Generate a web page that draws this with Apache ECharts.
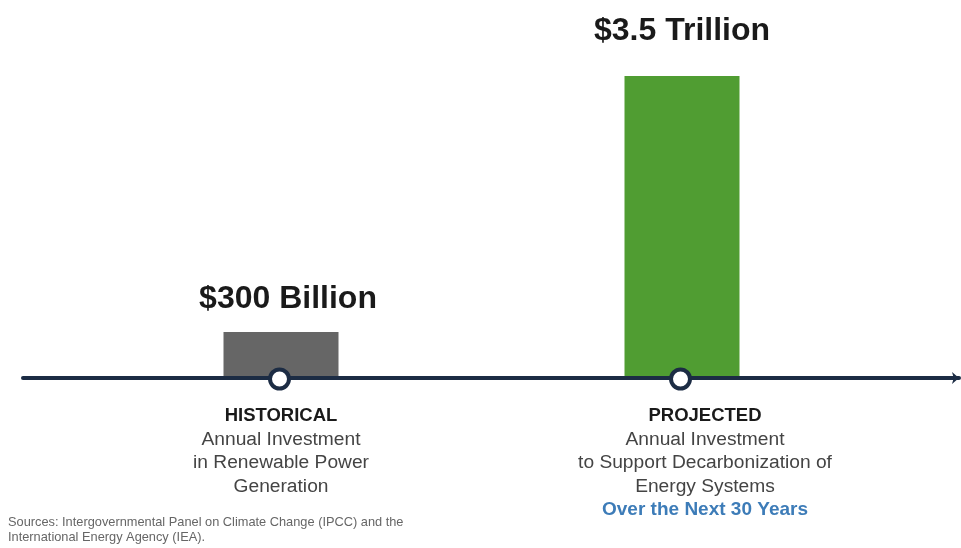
<!DOCTYPE html>
<html>
<head>
<meta charset="utf-8">
<script src="https://cdn.jsdelivr.net/npm/echarts@6/dist/echarts.min.js"></script>
<style>
html,body{margin:0;padding:0;background:#fff;}
#chart{width:961px;height:548px;}
</style>
</head>
<body>
<div id="chart"></div>
<script>
// ---- data ----
const categories = ['HISTORICAL', 'PROJECTED'];
const descriptions = [
  ['Annual Investment', 'in Renewable Power', 'Generation'],
  ['Annual Investment', 'to Support Decarbonization of', 'Energy Systems']
];
const highlights = ['', 'Over the Next 30 Years'];
const investmentBillions = [300, 3500];
const valueLabels = ['$300 Billion', '$3.5 Trillion'];
const sourceLines = [
  'Sources: Intergovernmental Panel on Climate Change (IPCC) and the',
  'International Energy Agency (IEA).'
];

// ---- chart ----
const FONT = 'Arial, "Liberation Sans", Helvetica, sans-serif';
const NAVY = '#1c2c44';
const barColors = ['#666666', '#509d32'];
const labelGaps = [17, 29];
const labelShifts = [[7, 0], [0, 0]];
const captionShift = [0, 46]; // left padding that moves each caption block sideways

const chart = echarts.init(document.getElementById('chart'), null, {renderer: 'canvas'});

function captionStyles(pad) {
  return {
    ['h' + pad]: {fontFamily: FONT, fontSize: 18.5, fontWeight: 'bold', color: '#1a1a1a', lineHeight: 23.5, align: 'center', padding: [0, 0, 0, pad]},
    ['d' + pad]: {fontFamily: FONT, fontSize: 19.2, color: '#444444', lineHeight: 23.5, align: 'center', padding: [0, 0, 0, pad]},
    ['b' + pad]: {fontFamily: FONT, fontSize: 19, fontWeight: 'bold', color: '#3d7cb8', lineHeight: 23.5, align: 'center', padding: [0, 0, 0, pad]}
  };
}
const rich = Object.assign({}, ...captionShift.map(captionStyles));

const option = {
  backgroundColor: '#ffffff',
  animation: false,
  textStyle: {fontFamily: FONT},
  grid: [
    {left: 80.5, right: 78.5, top: 76, bottom: 170},
    {left: 23, right: 2, top: 76, bottom: 170}
  ],
  xAxis: [
    {
      type: 'category',
      gridIndex: 0,
      data: categories,
      axisLine: {show: false},
      axisTick: {show: false},
      splitLine: {show: false},
      axisLabel: {
        margin: 26,
        interval: 0,
        fontFamily: FONT,
        formatter: function (value, idx) {
          const p = captionShift[idx];
          const lines = ['{h' + p + '|' + value + '}'];
          descriptions[idx].forEach(d => lines.push('{d' + p + '|' + d + '}'));
          if (highlights[idx]) lines.push('{b' + p + '|' + highlights[idx] + '}');
          return lines.join('\n');
        },
        rich: rich
      }
    },
    {
      type: 'value',
      gridIndex: 1,
      min: 0,
      max: 1,
      position: 'bottom',
      z: 3,
      axisLine: {
        show: true,
        symbol: ['none', 'arrow'],
        symbolSize: [9, 7],
        lineStyle: {color: NAVY, width: 4}
      },
      axisTick: {show: false},
      axisLabel: {show: false},
      splitLine: {show: false}
    }
  ],
  yAxis: [
    {
      type: 'log',
      gridIndex: 0,
      min: 193,
      max: 3500,
      startValue: 193,
      show: false,
      splitLine: {show: false}
    },
    {
      type: 'value',
      gridIndex: 1,
      show: false,
      splitLine: {show: false}
    }
  ],
  series: [
    {
      type: 'bar',
      xAxisIndex: 0,
      yAxisIndex: 0,
      barWidth: 115,
      clip: true,
      z: 2,
      data: investmentBillions.map((v, i) => ({
        value: v,
        itemStyle: {color: barColors[i]},
        label: {distance: labelGaps[i], offset: labelShifts[i]}
      })),
      label: {
        show: true,
        position: 'top',
        fontFamily: FONT,
        fontSize: 32,
        fontWeight: 'bold',
        color: '#1a1a1a',
        formatter: p => valueLabels[p.dataIndex]
      }
    },
    {
      type: 'scatter',
      xAxisIndex: 0,
      yAxisIndex: 0,
      z: 5,
      symbol: 'circle',
      symbolSize: 19,
      symbolOffset: [-1.5, 1],
      clip: false,
      itemStyle: {color: '#ffffff', borderColor: NAVY, borderWidth: 4, opacity: 1},
      data: categories.map(c => [c, 193])
    }
  ],
  graphic: [
    {
      type: 'text',
      left: 8,
      top: 515,
      style: {
        text: sourceLines.join('\n'),
        fontFamily: FONT,
        fontSize: 12.8,
        lineHeight: 15,
        fill: '#666666'
      }
    }
  ]
};

chart.setOption(option);
</script>
</body>
</html>
